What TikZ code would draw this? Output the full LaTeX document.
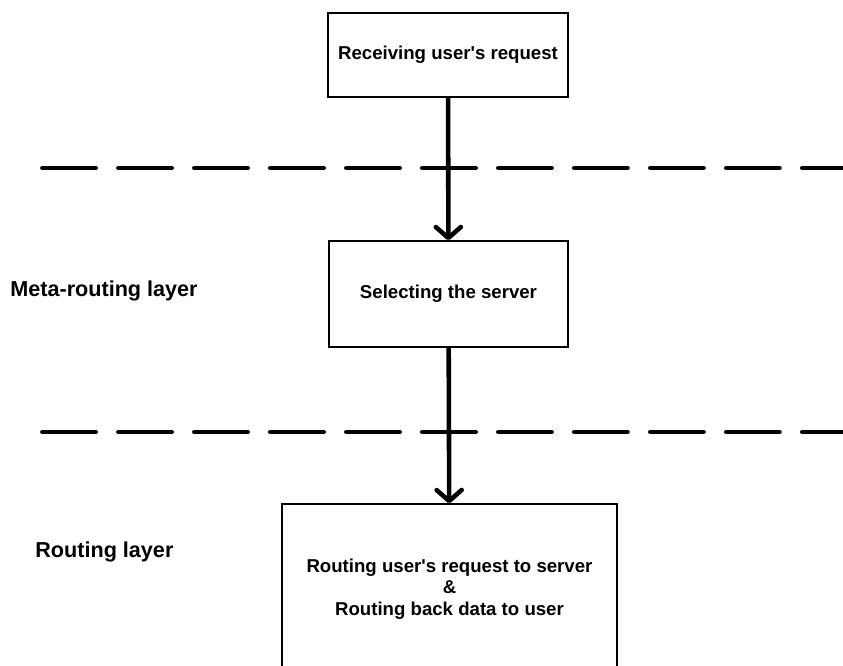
\documentclass[tikz,border=0pt]{standalone}
\usepackage{fontspec}
\setmainfont{Liberation Sans}
\usetikzlibrary{arrows.meta}
\begin{document}
\begin{tikzpicture}[x=0.02cm,y=-0.02cm,
    stepbox/.style={draw,line width=0.8pt,align=center,inner sep=0pt,
      font=\bfseries\fontsize{10.6}{12.1}\selectfont},
    layer/.style={anchor=base west,inner sep=0pt,font=\bfseries\fontsize{12.3}{14}\selectfont},
    sep/.style={line width=2.8pt,line cap=round,dash pattern=on 1.06cm off 0.46cm},
    flow/.style={line width=2.6pt,-{Straight Barb[length=0.22cm,width=0.5cm,line cap=round,line join=round]}}]
        \useasboundingbox (0,0) rectangle (843,666);

        \node[stepbox,minimum width=4.8cm,minimum height=1.68cm] (recv) at (448,55) {Receiving user\textquotesingle s request};
        \node[stepbox,minimum width=4.78cm,minimum height=2.12cm] (select) at (448.5,294) {Selecting the server};
        \node[stepbox,minimum width=6.7cm,minimum height=3.4cm] (route) at (449.5,589)
            {Routing user\textquotesingle s request to server\\ \&\\ Routing back data to user};

        \node[layer] (meta) at (10,296) {Meta-routing layer};
        \node[layer] (rlayer) at (35,557) {Routing layer};

        \draw[sep] (42.5,168) -- (860,168);
        \draw[sep] (42.5,432) -- (860,432);

        \draw[flow] (recv) -- (select);
        \draw[flow] (select) -- (route);
    \end{tikzpicture}
\end{document}
